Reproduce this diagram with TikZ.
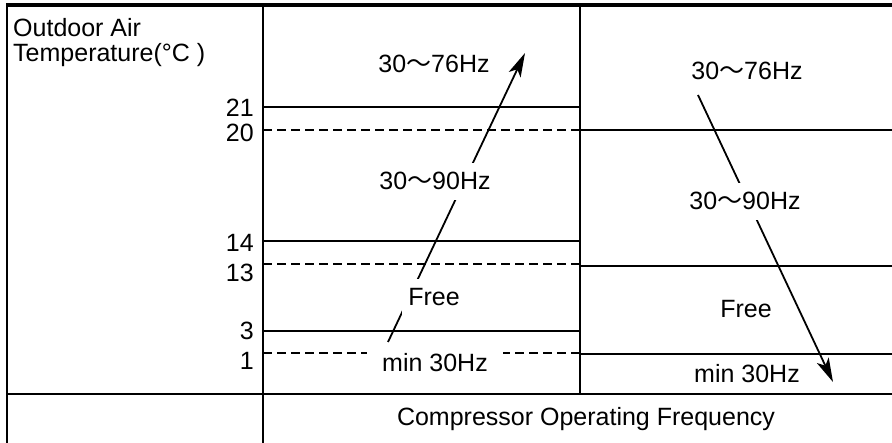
\documentclass[tikz,border=0pt]{standalone}
\usepackage{fontspec}
\setmainfont{Liberation Sans}
\newfontfamily\cjkfont{Noto Sans CJK JP}
\newcommand{\wv}{{\cjkfont ～}}
\usetikzlibrary{arrows.meta}
\begin{document}
\begin{tikzpicture}[x=1pt,y=-1pt,
  every node/.style={font=\fontsize{25}{25}\selectfont, inner sep=0pt},
  frame/.style={line width=2.4pt},
  topframe/.style={line width=4pt},
  lvl/.style={line width=1.8pt},
  thicklvl/.style={line width=2.8pt},
  dlvl/.style={line width=1.6pt, dash pattern=on 9pt off 5pt},
  lbl/.style={fill=white, inner xsep=6pt, inner ysep=10pt, anchor=base},
  txt/.style={anchor=base},
  num/.style={anchor=base east},
  arr/.style={line width=1.8pt, -{Stealth[length=24pt,width=13pt,inset=6pt]}}
]
\useasboundingbox (0,0) rectangle (892,443);
% frame coordinates
\coordinate (TL) at (7,5);
\coordinate (TR) at (892,5);
\coordinate (BL) at (7,443);
\coordinate (M1t) at (263,5);
\coordinate (M1b) at (263,443);
\coordinate (M2t) at (580,5);
\coordinate (M2b) at (580,394);
\coordinate (HL) at (7,394);
\coordinate (HR) at (892,394);
% level line coordinates
\coordinate (a1) at (263,107); \coordinate (a2) at (580,107);
\coordinate (b1) at (263,130); \coordinate (b2) at (580,130); \coordinate (b3) at (892,130);
\coordinate (c1) at (263,241); \coordinate (c2) at (580,241);
\coordinate (d1) at (263,264); \coordinate (d2) at (580,264);
\coordinate (d3) at (580,266); \coordinate (d4) at (892,266);
\coordinate (e1) at (263,331); \coordinate (e2) at (580,331);
\coordinate (f1) at (263,353); \coordinate (f2) at (580,353);
\coordinate (f3) at (580,354); \coordinate (f4) at (892,354);
% arrow coordinates
\coordinate (LA) at (388,342); \coordinate (LB) at (525,53);
\coordinate (RA) at (698,95);  \coordinate (RB) at (833,382);

% frame
\draw[frame] (TL) -- (BL);
\draw[frame] (M1t) -- (M1b);
\draw[frame] (M2t) -- (M2b);
\draw[frame] (HL) -- (HR);
\draw[topframe] ([xshift=-1.2pt]TL) -- (TR);

% levels
\draw[lvl] (a1) -- (a2);
\draw[dlvl] (b1) -- (b2);
\draw[lvl] (b2) -- (b3);
\draw[lvl] (c1) -- (c2);
\draw[dlvl] (d1) -- (d2);
\draw[lvl] (d3) -- (d4);
\draw[thicklvl] (e1) -- (e2);
\draw[dlvl] (f1) -- (f2);
\draw[lvl] (f3) -- (f4);

% arrows
\draw[arr] (LA) -- (LB);
\draw[arr] (RA) -- (RB);

% title
\node[anchor=base west] (t1) at (13,37) {Outdoor Air};
\node[anchor=base west] (t2) at (13,62) {Temperature(°C )};

% numbers
\node[num] (n21) at (254,117) {21};
\node[num] (n20) at (254,142) {20};
\node[num] (n14) at (254,252) {14};
\node[num] (n13) at (254,282) {13};
\node[num] (n3)  at (254,340) {3};
\node[num] (n1)  at (254,370) {1};

% labels
\node[txt] (L76) at (434,73) {30\wv76Hz};
\node[txt] (R76) at (747,80) {30\wv76Hz};
\node[lbl] (L90) at (435,190) {30\wv90Hz};
\node[lbl] (R90) at (745,210) {30\wv90Hz};
\node[lbl] (LFree) at (434,306) {Free};
\node[txt] (RFree) at (746,318) {Free};
\node[lbl, inner xsep=15pt] (Lmin) at (435,372) {min 30Hz};
\node[txt] (Rmin) at (747,383) {min 30Hz};
\node[txt] (comp) at (586,426) {Compressor Operating Frequency};
\end{tikzpicture}
\end{document}
